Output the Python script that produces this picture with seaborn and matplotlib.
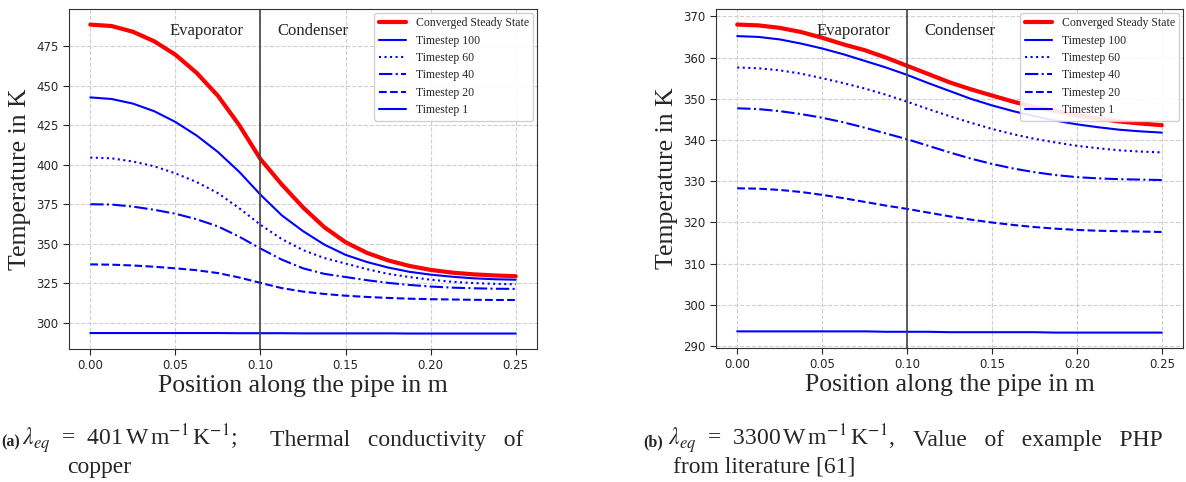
import numpy as np
import matplotlib.pyplot as plt
import seaborn as sns

# position along the pipe (m)
pos = [0.0, 0.0125, 0.025, 0.0375, 0.05, 0.0625, 0.075, 0.0875, 0.1, 0.1125, 0.125,
       0.1375, 0.15, 0.1625, 0.175, 0.1875, 0.2, 0.2125, 0.225, 0.2375, 0.25]

# (a) lambda = 401
a_steady = [488.5, 487.6, 484.0, 478.0, 469.5, 458.0, 443.5, 425.0, 403.5, 387.5, 373.0,
            360.5, 351.0, 344.3, 339.5, 336.0, 333.5, 331.8, 330.7, 330.0, 329.5]
a_t100 = [442.5, 441.5, 438.6, 433.8, 427.0, 418.4, 408.0, 395.5, 381.0, 368.0, 358.0,
          349.5, 343.0, 338.5, 335.0, 332.3, 330.5, 329.2, 328.2, 327.6, 327.3]
a_t60 = [404.5, 404.0, 402.0, 399.0, 394.5, 389.0, 382.0, 372.5, 362.0, 353.0, 346.0,
         341.0, 337.5, 334.0, 331.0, 329.0, 327.3, 326.0, 325.2, 324.7, 324.4]
a_t40 = [375.0, 374.8, 373.5, 371.5, 369.0, 365.5, 361.0, 354.5, 347.0, 340.0, 334.5,
         331.0, 329.0, 327.0, 325.3, 324.0, 323.0, 322.3, 321.9, 321.6, 321.5]
a_t20 = [337.0, 336.8, 336.3, 335.5, 334.5, 333.3, 331.5, 328.7, 325.3, 322.0, 319.8,
         318.3, 317.2, 316.4, 315.8, 315.3, 315.0, 314.8, 314.6, 314.5, 314.5]
a_t1 = [293.6, 293.6, 293.6, 293.6, 293.6, 293.6, 293.6, 293.5, 293.5, 293.5, 293.4,
        293.4, 293.4, 293.4, 293.4, 293.3, 293.3, 293.3, 293.3, 293.3, 293.3]

# (b) lambda = 3300
b_steady = [368.0, 367.8, 367.2, 366.2, 364.8, 363.2, 361.8, 360.0, 358.0, 356.0, 354.0,
            352.3, 350.8, 349.3, 348.0, 347.0, 346.0, 345.2, 344.5, 344.0, 343.6]
b_t100 = [365.2, 365.0, 364.4, 363.4, 362.2, 360.8, 359.2, 357.6, 355.8, 353.8, 351.9,
          350.0, 348.4, 347.0, 345.8, 344.7, 343.8, 343.1, 342.5, 342.1, 341.8]
b_t60 = [357.6, 357.4, 356.9, 356.1, 355.0, 353.8, 352.5, 351.0, 349.3, 347.5, 345.8,
         344.2, 342.7, 341.4, 340.3, 339.4, 338.6, 338.0, 337.5, 337.2, 337.0]
b_t40 = [347.7, 347.5, 347.0, 346.3, 345.4, 344.3, 343.0, 341.6, 340.2, 338.6, 337.0,
         335.5, 334.2, 333.1, 332.2, 331.5, 331.0, 330.7, 330.5, 330.4, 330.3]
b_t20 = [328.3, 328.2, 327.9, 327.4, 326.7, 325.9, 325.0, 324.1, 323.3, 322.4, 321.5,
         320.7, 320.0, 319.4, 318.9, 318.5, 318.2, 318.0, 317.9, 317.8, 317.7]
b_t1 = [293.6, 293.6, 293.6, 293.6, 293.6, 293.6, 293.6, 293.5, 293.5, 293.5, 293.4,
        293.4, 293.4, 293.4, 293.4, 293.3, 293.3, 293.3, 293.3, 293.3, 293.3]

labels = ["Converged Steady State", "Timestep 100", "Timestep 60",
          "Timestep 40", "Timestep 20", "Timestep 1"]
styles = [("red", 3.0, "-"), ("blue", 1.5, "-"), ("blue", 1.5, ":"),
          ("blue", 1.5, "-."), ("blue", 1.5, "--"), ("blue", 1.5, "-")]

sns.set_style("ticks", {"axes.grid": True, "grid.linestyle": "--",
                        "grid.color": "#d0d0d0", "axes.edgecolor": "#333333"})
plt.rcParams['mathtext.fontset'] = 'stix'
serif = ['Liberation Serif', 'DejaVu Serif']

fig = plt.figure(figsize=(11.86, 4.82), dpi=100)
ax1 = fig.add_axes([0.0582, 0.276, 0.3946, 0.705])
ax2 = fig.add_axes([0.6037, 0.278, 0.3938, 0.703])


def draw(ax, series):
    for vals, lab, (c, lw, ls) in zip(series, labels, styles):
        sns.lineplot(x=pos, y=vals, ax=ax, color=c, lw=lw, linestyle=ls, label=lab)
    ax.axvline(0.1, color="#444444", lw=1.2)
    tr = ax.get_xaxis_transform()
    ax.text(0.09, 0.935, "Evaporator", ha="right", va="center", transform=tr,
            family=serif, fontsize=12)
    ax.text(0.11, 0.935, "Condenser", ha="left", va="center", transform=tr,
            family=serif, fontsize=12)
    ax.set_xticks([0.0, 0.05, 0.1, 0.15, 0.2, 0.25])
    ax.tick_params(labelsize=8.5, length=4)
    ax.set_xlabel("Position along the pipe in m", family=serif, fontsize=18.5, labelpad=2)
    ax.set_ylabel("Temperature in K", family=serif, fontsize=18.5, labelpad=4)
    ax.legend(loc="upper right", prop={"family": serif, "size": 8.5},
              handlelength=2.3, labelspacing=0.45, borderaxespad=0.3,
              framealpha=0.9, fancybox=True)
    ax.grid(True, linestyle="--", color="#d0d0d0", lw=0.8)


draw(ax1, [a_steady, a_t100, a_t60, a_t40, a_t20, a_t1])
draw(ax2, [b_steady, b_t100, b_t60, b_t40, b_t20, b_t1])
ax1.set_yticks([300, 325, 350, 375, 400, 425, 450, 475])
ax2.set_yticks([290, 300, 310, 320, 330, 340, 350, 360, 370])

y1 = 1 - 446 / 482
y2 = 1 - 473 / 482
cap = 17
fig.text(0.001, y1, "(a)", fontweight="bold", family=serif, fontsize=11.5, va="baseline")
fig.text(22 / 1186, y1, r"$\lambda_{eq}$  =  401$\,$W$\,$m$^{-1}\,$K$^{-1}$;",
         family=serif, fontsize=cap, va="baseline")
fig.text(523 / 1186, y1, "Thermal   conductivity   of", family=serif, fontsize=cap,
         va="baseline", ha="right")
fig.text(67 / 1186, y2, "copper", family=serif, fontsize=cap, va="baseline")

fig.text(643 / 1186, y1, "(b)", fontweight="bold", family=serif, fontsize=11.5, va="baseline")
fig.text(668 / 1186, y1, r"$\lambda_{eq}$  =  3300$\,$W$\,$m$^{-1}\,$K$^{-1}$,",
         family=serif, fontsize=cap, va="baseline")
fig.text(1163 / 1186, y1, "Value   of   example   PHP", family=serif, fontsize=cap,
         va="baseline", ha="right")
fig.text(673 / 1186, y2, "from literature [61]", family=serif, fontsize=cap, va="baseline")

fig.savefig("out.png", dpi=100)
